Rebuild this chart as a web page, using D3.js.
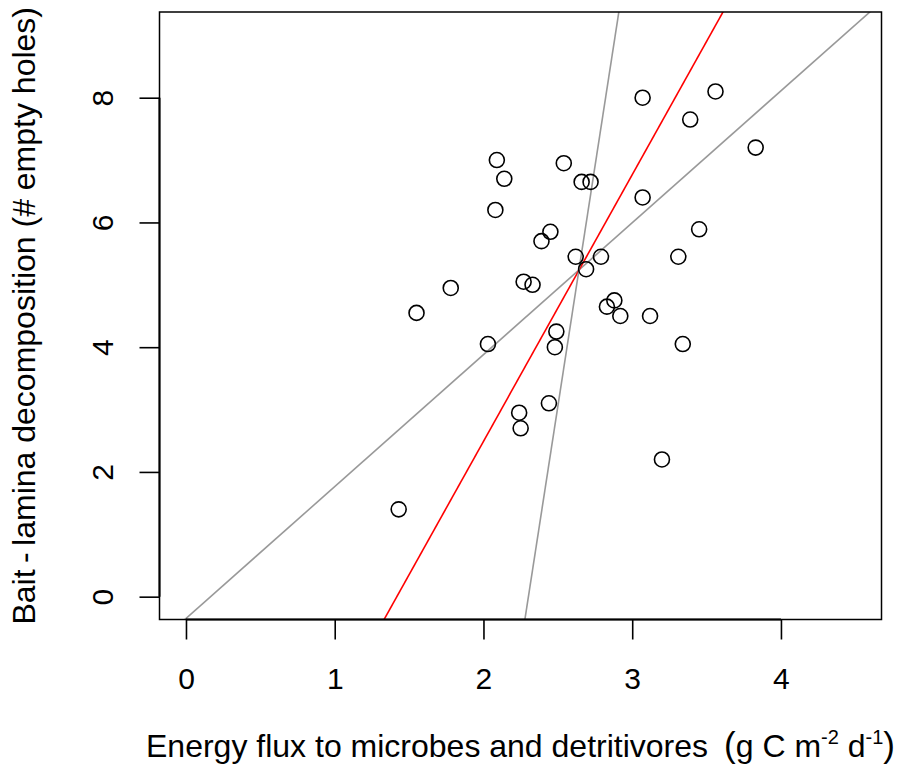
<!DOCTYPE html>
<html>
<head>
<meta charset="utf-8">
<script src="https://d3js.org/d3.v7.min.js"></script>
<style>
  body { margin: 0; background: #fff; }
  svg text { font-family: "Liberation Sans", Arial, Helvetica, sans-serif; fill: #000; }
</style>
</head>
<body>
<script>
// energy flux (x) and bait-lamina holes (y), one entry per plot
var flux = [2.09, 2.54, 2.14, 2.66, 2.72, 2.08, 2.45, 2.39, 2.62, 2.79, 2.69, 2.27,
            2.33, 1.78, 1.55, 3.07, 2.88, 2.83, 2.92, 2.03, 2.49, 2.48, 2.44, 2.24,
            2.25, 3.12, 3.34, 3.31, 3.45, 3.07, 3.56, 3.39, 3.83, 3.20, 1.43];
var holes = [7.00, 6.95, 6.70, 6.65, 6.65, 6.20, 5.85, 5.70, 5.45, 5.45, 5.25, 5.05,
             5.00, 4.95, 4.55, 6.40, 4.75, 4.65, 4.50, 4.05, 4.25, 4.00, 3.10, 2.95,
             2.70, 4.50, 4.05, 5.45, 5.89, 8.00, 8.10, 7.65, 7.20, 2.20, 1.40];

// fitted lines (abline style): intercept + slope
var lineIntercept = [-0.35, -6.06, -35.5];
var lineSlope     = [2.115, 4.275, 15.42];
var lineColour    = ["#999999", "#ff0000", "#999999"];

var xTicks = [0, 1, 2, 3, 4];
var yTicks = [0, 2, 4, 6, 8];

var W = 904, H = 767;
var pL = 159.5, pR = 881.5, pT = 12, pB = 619.5;
var fs = 30, fsTitle = 32;

var x = d3.scaleLinear().domain([-0.178, 4.676]).range([pL, pR]);
var y = d3.scaleLinear().domain([-0.366, 9.374]).range([pB, pT]);

var svg = d3.select("body").append("svg")
    .attr("width", W)
    .attr("height", H);

svg.append("defs").append("clipPath").attr("id", "plotclip")
  .append("rect")
    .attr("x", pL).attr("y", pT)
    .attr("width", pR - pL).attr("height", pB - pT);

// regression lines
var xd = x.domain();
svg.append("g").attr("clip-path", "url(#plotclip)")
  .selectAll("line")
  .data(lineSlope)
  .enter().append("line")
    .attr("x1", x(xd[0]))
    .attr("x2", x(xd[1]))
    .attr("y1", function(d, i) { return y(lineIntercept[i] + d * xd[0]); })
    .attr("y2", function(d, i) { return y(lineIntercept[i] + d * xd[1]); })
    .attr("stroke", function(d, i) { return lineColour[i]; })
    .attr("stroke-width", 1.6);

// points
svg.append("g").selectAll("circle")
  .data(flux)
  .enter().append("circle")
    .attr("cx", function(d) { return x(d); })
    .attr("cy", function(d, i) { return y(holes[i]); })
    .attr("r", 7.5)
    .attr("fill", "none")
    .attr("stroke", "#000")
    .attr("stroke-width", 1.6);

// box
svg.append("rect")
    .attr("x", pL).attr("y", pT)
    .attr("width", pR - pL).attr("height", pB - pT)
    .attr("fill", "none")
    .attr("stroke", "#000")
    .attr("stroke-width", 1.5);

// x axis
var gx = svg.append("g")
    .attr("transform", "translate(0," + pB + ")")
    .call(d3.axisBottom(x).tickValues(xTicks).tickSize(20).tickPadding(28).tickFormat(d3.format("d")));
gx.select(".domain").remove();
gx.selectAll(".tick line").attr("stroke", "#000").attr("stroke-width", 1.6);
gx.selectAll(".tick text").attr("font-size", fs);
gx.append("line")
    .attr("x1", x(xTicks[0])).attr("x2", x(xTicks[xTicks.length - 1]))
    .attr("stroke", "#000").attr("stroke-width", 2);

// y axis, labels parallel to the axis
var gy = svg.append("g")
    .attr("transform", "translate(" + pL + ",0)")
    .call(d3.axisLeft(y).tickValues(yTicks).tickSize(20).tickFormat(d3.format("d")));
gy.select(".domain").remove();
gy.selectAll(".tick line").attr("stroke", "#000").attr("stroke-width", 1.6);
gy.selectAll(".tick text")
    .attr("font-size", fs)
    .attr("x", null).attr("dy", null)
    .attr("text-anchor", "middle")
    .attr("transform", "translate(-47,0) rotate(-90)");
gy.append("line")
    .attr("y1", y(yTicks[0])).attr("y2", y(yTicks[yTicks.length - 1]))
    .attr("stroke", "#000").attr("stroke-width", 2);

// axis titles
svg.append("text")
    .attr("transform", "translate(35," + ((pT + pB) / 2) + ") rotate(-90)")
    .attr("text-anchor", "middle")
    .attr("font-size", fsTitle)
    .text("Bait\u2009-\u2009lamina decomposition (# empty holes)");

var xt = svg.append("text")
    .attr("x", (pL + pR) / 2)
    .attr("y", 757)
    .attr("text-anchor", "middle")
    .attr("font-size", fsTitle);
xt.append("tspan").text("Energy flux to microbes and detritivores\u2002");
xt.append("tspan").attr("font-size", 35).text("(");
xt.append("tspan").text("g C m");
xt.append("tspan").attr("font-size", 20).attr("dy", -13).text("-2");
xt.append("tspan").attr("dy", 13).text(" d");
xt.append("tspan").attr("font-size", 20).attr("dy", -13).text("-1");
xt.append("tspan").attr("dy", 13).attr("font-size", 35).text(")");
</script>
</body>
</html>
